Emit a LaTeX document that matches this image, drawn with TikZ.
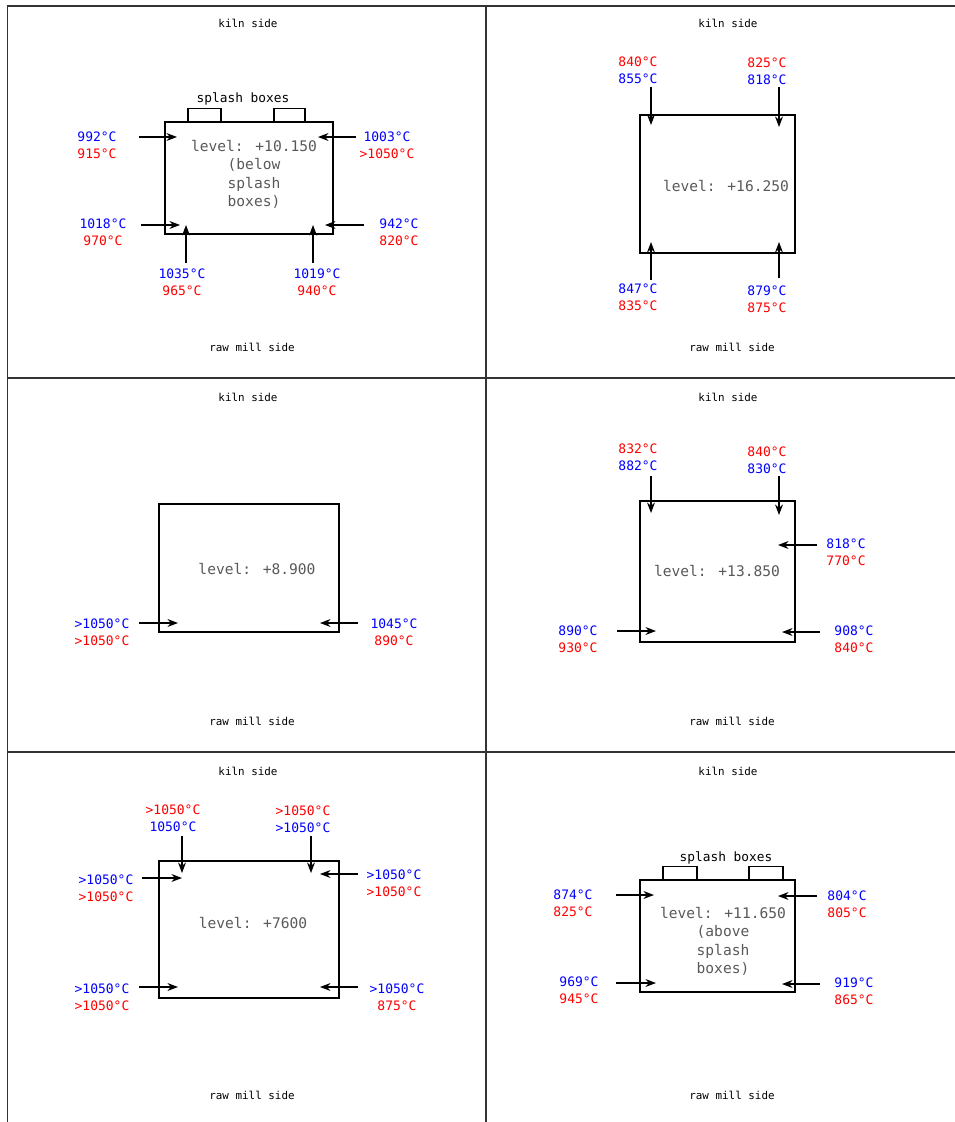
\documentclass[tikz,border=0pt]{standalone}
\usepackage{fontspec}
\newfontfamily\cadfont{DejaVu Sans Mono}
\usetikzlibrary{arrows.meta}
\newcommand{\bluered}[2]{\textcolor{blue}{#1}\\\textcolor{red}{#2}}
\newcommand{\redblue}[2]{\textcolor{red}{#1}\\\textcolor{blue}{#2}}

\begin{document}
\begin{tikzpicture}[
    x=0.02cm, y=-0.02cm,
    >={Stealth[length=6pt, width=4.5pt]},
    gridline/.style={line width=1pt, black!80},
    cell/.style={draw, line width=0.8pt, inner sep=0pt},
    splashbox/.style={draw, line width=0.8pt, inner sep=0pt, anchor=south, minimum height=0.26cm},
    flow/.style={->, line width=0.6pt},
    tempval/.style={font=\cadfont\fontsize{7.4}{9.5}\selectfont, align=center},
    sidetext/.style={font=\cadfont\fontsize{6.2}{7}\selectfont},
    leveltext/.style={font=\cadfont\fontsize{8.3}{10.5}\selectfont, text=black!65, align=center}
  ]
  \useasboundingbox (0,0) rectangle (955,1122);

  % Griglia
  \draw[gridline] (7.5,1122) -- (7.5,6) -- (955,6);
  \draw[gridline] (486,6) -- (486,1122);
  \draw[gridline] (7.5,378) -- (955,378);
  \draw[gridline] (7.5,752) -- (955,752);

  % Lati
  \foreach \i/\cx/\cy in {1/248/23, 2/728/23, 3/248/397, 4/728/397, 5/248/771, 6/728/771} {
    \node[sidetext] (kiln\i) at (\cx,\cy) {kiln side};
    \node[sidetext] (mill\i) at (\cx+4,\cy+324) {raw mill side};
  }

  % Cicloni
  \node[cell, minimum width=3.36cm, minimum height=2.24cm] (box1) at (249,178) {};
  \node[cell, minimum width=3.1cm,  minimum height=2.76cm] (box2) at (717.5,184) {};
  \node[cell, minimum width=3.6cm,  minimum height=2.56cm] (box3) at (249,568) {};
  \node[cell, minimum width=3.1cm,  minimum height=2.82cm] (box4) at (717.5,571.5) {};
  \node[cell, minimum width=3.6cm,  minimum height=2.74cm] (box5) at (249,929.5) {};
  \node[cell, minimum width=3.1cm,  minimum height=2.24cm] (box6) at (717.5,936) {};

  % Splash boxes
  \node[splashbox, minimum width=0.66cm] (sb1a) at (204.5,122) {};
  \node[splashbox, minimum width=0.62cm] (sb1b) at (289.5,122) {};
  \node[splashbox, minimum width=0.68cm] (sb6a) at (680,880) {};
  \node[splashbox, minimum width=0.68cm] (sb6b) at (766,880) {};
  \node[sidetext, font=\cadfont\fontsize{7.3}{8}\selectfont] (sbl1) at (243,99) {splash boxes};
  \node[sidetext, font=\cadfont\fontsize{7.3}{8}\selectfont] (sbl6) at (726,858) {splash boxes};

  % Quote
  \node[leveltext] (lev1) at (254,174.5) {level: +10.150\\(below\\splash\\boxes)};
  \node[leveltext] (lev2) at (726,186) {level: +16.250};
  \node[leveltext] (lev3) at (257,569) {level: +8.900};
  \node[leveltext] (lev4) at (717,571) {level: +13.850};
  \node[leveltext] (lev5) at (253,923) {level: +7600};
  \node[leveltext] (lev6) at (723,941.5) {level: +11.650\\(above\\splash\\boxes)};

  % Temperature
  \node[tempval] (t1a) at (97,145)    {\bluered{992°C}{915°C}};
  \node[tempval] (t1b) at (103,232)   {\bluered{1018°C}{970°C}};
  \node[tempval] (t1c) at (387,145.5) {\bluered{1003°C}{>1050°C}};
  \node[tempval] (t1d) at (399,232)   {\bluered{942°C}{820°C}};
  \node[tempval] (t1e) at (182,282.5) {\bluered{1035°C}{965°C}};
  \node[tempval] (t1f) at (317,282.5) {\bluered{1019°C}{940°C}};

  \node[tempval] (t2a) at (638,70)    {\redblue{840°C}{855°C}};
  \node[tempval] (t2b) at (767,71.5)  {\redblue{825°C}{818°C}};
  \node[tempval] (t2c) at (638,297.5) {\bluered{847°C}{835°C}};
  \node[tempval] (t2d) at (767,299.5) {\bluered{879°C}{875°C}};

  \node[tempval] (t3a) at (102,632.5) {\bluered{>1050°C}{>1050°C}};
  \node[tempval] (t3b) at (394,632.5) {\bluered{1045°C}{890°C}};

  \node[tempval] (t4a) at (638,457.5) {\redblue{832°C}{882°C}};
  \node[tempval] (t4b) at (767,460.5) {\redblue{840°C}{830°C}};
  \node[tempval] (t4c) at (846,552)   {\bluered{818°C}{770°C}};
  \node[tempval] (t4d) at (578,639.5) {\bluered{890°C}{930°C}};
  \node[tempval] (t4e) at (854,639.5) {\bluered{908°C}{840°C}};

  \node[tempval] (t5a) at (173,818)   {\redblue{>1050°C}{1050°C}};
  \node[tempval] (t5b) at (303,819)   {\redblue{>1050°C}{>1050°C}};
  \node[tempval] (t5c) at (106,888)   {\bluered{>1050°C}{>1050°C}};
  \node[tempval] (t5d) at (394,883.5) {\bluered{>1050°C}{>1050°C}};
  \node[tempval] (t5e) at (102,997)   {\bluered{>1050°C}{>1050°C}};
  \node[tempval] (t5f) at (397,997)   {\bluered{>1050°C}{875°C}};

  \node[tempval] (t6a) at (573,903)   {\bluered{874°C}{825°C}};
  \node[tempval] (t6b) at (579,990.5) {\bluered{969°C}{945°C}};
  \node[tempval] (t6c) at (847,904)   {\bluered{804°C}{805°C}};
  \node[tempval] (t6d) at (854,991.5) {\bluered{919°C}{865°C}};

  % Punti di misura
  \foreach \n/\sx/\sy/\ex/\ey in {
      p1a/139/137/177/137, p1b/141/225/180/225, p1c/356/137/318/137,
      p1d/364/225/325/225, p1e/186/263/186/225, p1f/313/263/313/225,
      p2a/651/87/651/125, p2b/779/87/779/127, p2c/651/280/651/242, p2d/779/278/779/242,
      p3a/139/623/178/623, p3b/358/623/320/623,
      p4a/651/476/651/513, p4b/779/476/779/515, p4c/817/545/778/545,
      p4d/617/631/656/631, p4e/820/632/782/632,
      p5a/182/836/182/873, p5b/311/836/311/873, p5c/142/878/182/878,
      p5d/358/874/320/874, p5e/139/987/178/987, p5f/358/987/320/987,
      p6a/616/895/654/895, p6b/616/983/656/983, p6c/817/896/778/896, p6d/820/984/782/984} {
    \coordinate (\n-s) at (\sx,\sy);
    \coordinate (\n-e) at (\ex,\ey);
    \draw[flow] (\n-s) -- (\n-e);
  }

\end{tikzpicture}
\end{document}
